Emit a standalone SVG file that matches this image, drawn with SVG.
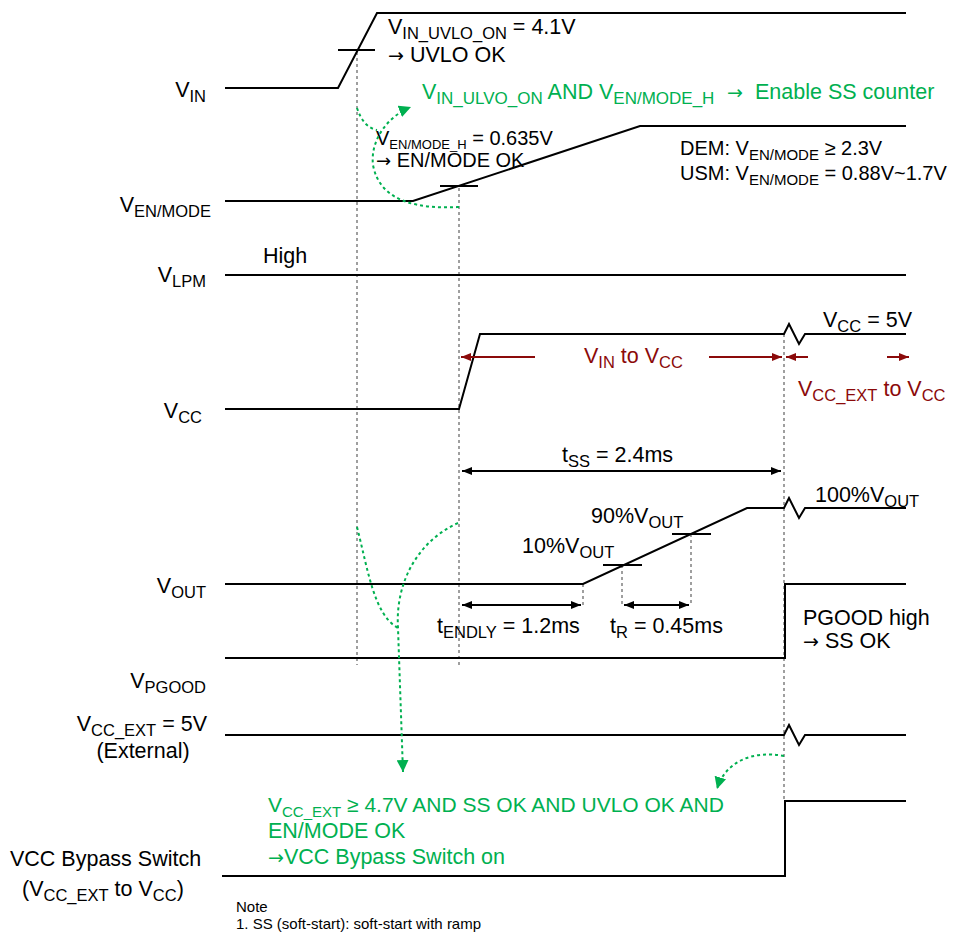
<svg xmlns="http://www.w3.org/2000/svg" width="956" height="939" viewBox="0 0 956 939">
<style>
text{font-family:"Liberation Sans",Arial,sans-serif;font-size:21.5px;fill:#000}
.s{font-size:16.5px}
.a{font-family:"DejaVu Sans",sans-serif;font-size:19px}
.g{fill:#00B050}
.r{fill:#8B0A0A}
.n{font-size:15px}
.m{font-size:20px}
.m .s{font-size:15px}
.k{font-size:20px}
.k .s{font-size:13px}
.k .a{font-size:18px}
.b{font-size:21px}
.b .s{font-size:15px}
.w{fill:none;stroke:#000;stroke-width:2}
.t{fill:none;stroke:#000;stroke-width:2}
.d{fill:none;stroke:#808080;stroke-width:1.5;stroke-dasharray:3 3}
.gd{fill:none;stroke:#00B050;stroke-width:2;stroke-dasharray:3 3}
.da{fill:none;stroke:#000;stroke-width:2}
.ra{fill:none;stroke:#8B0A0A;stroke-width:2}
</style>
<defs>
<marker id="ab" viewBox="0 0 10 10" refX="10" refY="5" markerWidth="5" markerHeight="5" orient="auto-start-reverse" markerUnits="strokeWidth"><path d="M0,1 L10,5 L0,9 Z" fill="#000"/></marker>
<marker id="ar" viewBox="0 0 10 10" refX="10" refY="5" markerWidth="5" markerHeight="5" orient="auto-start-reverse" markerUnits="strokeWidth"><path d="M0,1 L10,5 L0,9 Z" fill="#8B0A0A"/></marker>
<marker id="ag" viewBox="0 0 10 10" refX="10" refY="5" markerWidth="6" markerHeight="6" orient="auto" markerUnits="strokeWidth"><path d="M0,0 L10,5 L0,10 Z" fill="#00B050"/></marker>
</defs>

<g id="guides">
<line class="d" x1="357" y1="52" x2="357" y2="665"/>
<line class="d" x1="459" y1="188" x2="459" y2="665"/>
<line class="d" x1="784" y1="334" x2="784" y2="800"/>
<line class="d" x1="583" y1="584" x2="583" y2="605"/>
<line class="d" x1="622" y1="565" x2="622" y2="605"/>
<line class="d" x1="691" y1="534" x2="691" y2="605"/>
</g>

<g id="vin">
<text x="206" y="97" text-anchor="end">V<tspan class="s" dy="5">IN</tspan></text>
<polyline class="w" points="225,88 338,88 377,13 906,13"/>
<line class="t" x1="338" y1="50" x2="375" y2="50"/>
<text x="388" y="34">V<tspan class="s" dy="5">IN_UVLO_ON</tspan><tspan dy="-5"> = 4.1V</tspan></text>
<text x="388" y="62"><tspan class="a">→</tspan> UVLO OK</text>
</g>

<g id="ven">
<text x="211" y="212" text-anchor="end">V<tspan class="s" dy="5">EN/MODE</tspan></text>
<polyline class="w" points="225,201 413,201 640,126 906,126"/>
<line class="t" x1="440" y1="186" x2="478" y2="186"/>
<text class="k" x="376" y="145">V<tspan class="s" dy="4">EN/MODE_H</tspan><tspan dy="-4"> = 0.635V</tspan></text>
<text class="k" x="376" y="167"><tspan class="a">→</tspan> EN/MODE OK</text>
<text class="m" x="680" y="155">DEM: V<tspan class="s" dy="5">EN/MODE</tspan><tspan dy="-5"> ≥ 2.3V</tspan></text>
<text class="m" x="680" y="180">USM: V<tspan class="s" dy="5">EN/MODE</tspan><tspan dy="-5"> = 0.88V~1.7V</tspan></text>
</g>

<g id="vlpm">
<text x="206" y="282" text-anchor="end">V<tspan class="s" dy="5">LPM</tspan></text>
<line class="w" x1="225" y1="275" x2="906" y2="275"/>
<text x="263" y="263">High</text>
</g>

<g id="vcc">
<text x="202" y="418" text-anchor="end">V<tspan class="s" dy="5">CC</tspan></text>
<polyline class="w" points="225,409 459,409 480,334 784,334 789,324 799,344 805,334 906,334"/>
<text x="823" y="327">V<tspan class="s" dy="5">CC</tspan><tspan dy="-5"> = 5V</tspan></text>
<text class="r" x="584" y="363">V<tspan class="s r" dy="5">IN</tspan><tspan dy="-5"> to V</tspan><tspan class="s r" dy="5">CC</tspan></text>
<text class="r" x="798" y="396">V<tspan class="s r" dy="5">CC_EXT</tspan><tspan dy="-5"> to V</tspan><tspan class="s r" dy="5">CC</tspan></text>
</g>

<g id="vout">
<text x="206" y="593" text-anchor="end">V<tspan class="s" dy="5">OUT</tspan></text>
<polyline class="w" points="225,584 583,584 747,508 784,508 789,498 799,518 805,508 906,508"/>
<line class="t" x1="603" y1="565" x2="642" y2="565"/>
<line class="t" x1="672" y1="534" x2="711" y2="534"/>
<text x="815" y="502">100%V<tspan class="s" dy="5">OUT</tspan></text>
<text x="591" y="523">90%V<tspan class="s" dy="5">OUT</tspan></text>
<text x="522" y="553">10%V<tspan class="s" dy="5">OUT</tspan></text>
<text x="562" y="462">t<tspan class="s" dy="5">SS</tspan><tspan dy="-5"> = 2.4ms</tspan></text>
<text x="437" y="633">t<tspan class="s" dy="5">ENDLY</tspan><tspan dy="-5"> = 1.2ms</tspan></text>
<text x="610" y="633">t<tspan class="s" dy="5">R</tspan><tspan dy="-5"> = 0.45ms</tspan></text>
</g>

<g id="vpgood">
<text x="206" y="688" text-anchor="end">V<tspan class="s" dy="5">PGOOD</tspan></text>
<polyline class="w" points="225,658 785,658 785,584 906,584"/>
<text x="803" y="625">PGOOD high</text>
<text x="803" y="648"><tspan class="a">→</tspan> SS OK</text>
</g>

<g id="vccext">
<text x="207" y="731" text-anchor="end">V<tspan class="s" dy="5">CC_EXT</tspan><tspan dy="-5"> = 5V</tspan></text>
<text x="143" y="758" text-anchor="middle">(External)</text>
<polyline class="w" points="225,735 784,735 789,725 799,745 805,735 906,735"/>
</g>

<g id="bypass">
<text x="10" y="866">VCC Bypass Switch</text>
<text x="22" y="896">(V<tspan class="s" dy="5">CC_EXT</tspan><tspan dy="-5"> to V</tspan><tspan class="s" dy="5">CC</tspan><tspan dy="-5">)</tspan></text>
<polyline class="w" points="222,876 785,876 785,801 906,801"/>
</g>

<g id="green-notes">
<text class="g" x="422" y="99">V<tspan class="g" style="font-size:17px" dy="5">IN_ULVO_ON</tspan><tspan dy="-5"> AND V</tspan><tspan class="g" style="font-size:17px" dy="5">EN/MODE_H</tspan><tspan class="a g" x="727" dy="-5">→</tspan><tspan x="755">Enable SS counter</tspan></text>
<text class="g b" x="268" y="812">V<tspan class="s g" dy="5">CC_EXT</tspan><tspan dy="-5"> ≥ 4.7V AND SS OK AND UVLO OK AND</tspan></text>
<text class="g" x="268" y="838">EN/MODE OK</text>
<text class="g" x="268" y="864"><tspan class="a g">→</tspan>VCC Bypass Switch on</text>
</g>

<g id="note">
<text class="n" x="236" y="912">Note</text>
<text class="n" x="236" y="929">1. SS (soft-start): soft-start with ramp</text>
</g>

<g id="connectors">
<line class="da" x1="462" y1="471" x2="781" y2="471" marker-start="url(#ab)" marker-end="url(#ab)"/>
<line class="da" x1="462" y1="605" x2="581" y2="605" marker-start="url(#ab)" marker-end="url(#ab)"/>
<line class="da" x1="624" y1="605" x2="689" y2="605" marker-start="url(#ab)" marker-end="url(#ab)"/>
<line class="ra" x1="535" y1="357" x2="461" y2="357" marker-end="url(#ar)"/>
<line class="ra" x1="709" y1="357" x2="782" y2="357" marker-end="url(#ar)"/>
<line class="ra" x1="808" y1="357" x2="786" y2="357" marker-end="url(#ar)"/>
<line class="ra" x1="887" y1="357" x2="909" y2="357" marker-end="url(#ar)"/>
<path class="gd" d="M357,108 C361,120 367,128 377,130"/>
<path class="gd" d="M459,207 C420,209 380,203 373,165 C370,140 388,116 411,107" marker-end="url(#ag)"/>
<path class="gd" d="M357,527 C368,570 374,615 398,628"/>
<path class="gd" d="M458,523 C420,540 395,580 398,628 L403,772" marker-end="url(#ag)"/>
<path class="gd" d="M784,756 C752,750 725,762 717,789" marker-end="url(#ag)"/>
</g>
</svg>
